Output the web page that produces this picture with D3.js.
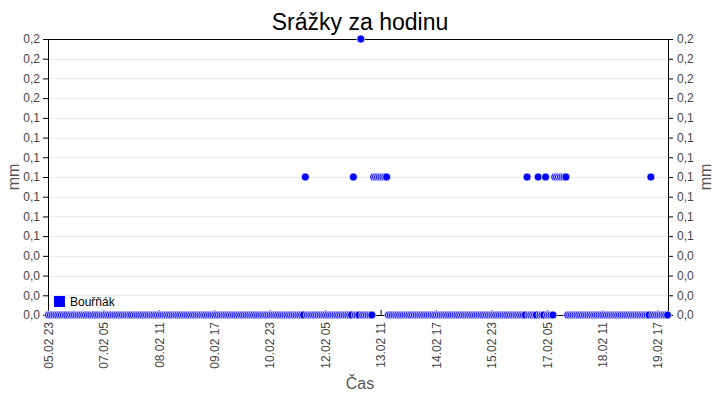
<!DOCTYPE html>
<html><head><meta charset="utf-8">
<script src="https://cdn.jsdelivr.net/npm/d3@7"></script>
<style>body{margin:0;background:#fff}svg{display:block}</style>
</head><body>
<script>
// ---- data ----
const title = "Srážky za hodinu";
const seriesName = "Bouřňák";
const startTime = "2023-02-05T23:00:00";   // first hourly sample
// hourly rainfall (mm), one row per 24 h starting 05.02 23:00
const rain = [
  0,0,0,0,0,0,0,0,0,0,0,0,0,0,0,0,0,0,0,0,0,0,0,0,
  0,0,0,0,0,0,0,0,0,0,0,0,0,0,0,0,0,0,0,0,0,0,0,0,
  0,0,0,0,0,0,0,0,0,0,0,0,0,0,0,0,0,0,0,0,0,0,0,0,
  0,0,0,0,0,0,0,0,0,0,0,0,0,0,0,0,0,0,0,0,0,0,0,0,
  0,0,0,0,0,0,0,0,0,0,0,0,0,0,0,0,0,0,0,0,0,0,0,0,
  0,0,0,0,0,0,0,0,0,0,0,0,0,0,0,0,0,0,0,0.1,0,0,0,0,
  0,0,0,0,0,0,0,0,0,0,0,0,0,0,0,0,0,0,0,0,0,0.1,0,0,
  0,0.2,0,0,0,0,0,0,0.1,0.1,0.1,0.1,0.1,0.1,0.1,0.1,0,0,0,0,0,0,0,0,
  0,0,0,0,0,0,0,0,0,0,0,0,0,0,0,0,0,0,0,0,0,0,0,0,
  0,0,0,0,0,0,0,0,0,0,0,0,0,0,0,0,0,0,0,0,0,0,0,0,
  0,0,0,0,0,0,0,0,0,0,0,0,0,0,0,0,0,0,0,0.1,0,0,0,0,
  0,0.1,0,0,0,0.1,0,0,0,0,0.1,0.1,0.1,0.1,0.1,0.1,0.1,0,0,0,0,0,0,0,
  0,0,0,0,0,0,0,0,0,0,0,0,0,0,0,0,0,0,0,0,0,0,0,0,
  0,0,0,0,0,0,0,0,0,0,0,0,0,0,0.1,0,0,0,0,0,0,0,0,0
];
const yMax = 0.2;
const yTickCount = 15;
const xTickStepHours = 30;
const xAxisTitle = "Čas";
const yAxisTitle = "mm";

// ---- chart ----
const W = 720, H = 400;
const m = {l: 48, r: 52, t: 39, b: 85};
const iw = W - m.l - m.r, ih = H - m.t - m.b;
const t0 = new Date(startTime);
const data = rain.map((v, i) => ({t: d3.timeHour.offset(t0, i), v}));
const tEnd = d3.timeHour.offset(t0, rain.length - 1);

const x = d3.scaleTime().domain([t0, tEnd]).range([0, iw - 1]);
const y = d3.scaleLinear().domain([0, yMax]).range([ih, 0]);
const yTicks = d3.range(yTickCount).map(i => yMax * i / (yTickCount - 1));
const xTicks = d3.range(0, rain.length, xTickStepHours).map(h => d3.timeHour.offset(t0, h));
const fmtY = v => d3.format(".1f")(v).replace(".", ",");
const fmtX = d3.timeFormat("%d.%m %H");

const svg = d3.select("body").append("svg").attr("width", W).attr("height", H)
  .style("font-family", "'Liberation Sans', Arial, sans-serif");
const g = svg.append("g").attr("transform", `translate(${m.l},${m.t})`);

// grid
g.append("g").selectAll("line").data(yTicks).join("line")
  .attr("x1", 1).attr("x2", iw).attr("y1", d => Math.round(y(d)) + 0.5).attr("y2", d => Math.round(y(d)) + 0.5)
  .attr("stroke", "#ebebeb");

// axes
const yl = g.append("g").call(d3.axisLeft(y).tickValues(yTicks).tickFormat(fmtY).tickSize(5).tickPadding(3));
const yr = g.append("g").attr("transform", `translate(${iw},0)`)
  .call(d3.axisRight(y).tickValues(yTicks).tickFormat(fmtY).tickSize(5).tickPadding(4));
const xa = g.append("g").attr("transform", `translate(0,${ih})`)
  .call(d3.axisBottom(x).tickValues(xTicks).tickFormat(fmtX).tickSize(-5).tickPadding(6));
[yl, yr, xa].forEach(a => {
  a.select(".domain").remove();
  a.selectAll("line").attr("stroke", "#000");
  a.selectAll("text").attr("fill", "#444").style("font-size", "12px");
});
xa.selectAll("text").attr("transform", "rotate(-90)").attr("text-anchor", "end")
  .attr("x", -7).attr("y", 0).attr("dy", "0.35em");

// frame
g.append("line").attr("x1", 0.5).attr("x2", 0.5).attr("y1", 0).attr("y2", ih).attr("stroke", "#000");
g.append("line").attr("x1", iw + 0.5).attr("x2", iw + 0.5).attr("y1", 0).attr("y2", ih).attr("stroke", "#000");
g.append("line").attr("x1", 0).attr("x2", iw).attr("y1", 0.5).attr("y2", 0.5).attr("stroke", "#000");
g.append("line").attr("x1", 0).attr("x2", iw).attr("y1", ih + 0.5).attr("y2", ih + 0.5).attr("stroke", "#000");

// markers
g.append("g").selectAll("circle").data(data.filter(d => d.v != null)).join("circle")
  .attr("cx", d => x(d.t) + 0.5).attr("cy", d => y(d.v))
  .attr("r", 4).attr("fill", "#0000ff").attr("stroke", "#fff").attr("stroke-width", 0.7);

// legend
g.append("rect").attr("x", 6).attr("y", ih - 19).attr("width", 11).attr("height", 11).attr("fill", "#0000ff");
g.append("text").attr("x", 22).attr("y", ih - 9).text(seriesName).style("font-size", "12px").attr("fill", "#000");

// titles
svg.append("text").attr("x", W / 2).attr("y", 30).attr("text-anchor", "middle")
  .style("font-size", "23px").attr("fill", "#000").text(title);
svg.append("text").attr("x", W / 2).attr("y", 389).attr("text-anchor", "middle")
  .style("font-size", "16px").attr("fill", "#555").text(xAxisTitle);
svg.append("text").attr("transform", `translate(19,${m.t + ih / 2}) rotate(-90)`).attr("text-anchor", "middle")
  .style("font-size", "16px").attr("fill", "#555").text(yAxisTitle);
svg.append("text").attr("transform", `translate(711,${m.t + ih / 2}) rotate(-90)`).attr("text-anchor", "middle")
  .style("font-size", "16px").attr("fill", "#555").text(yAxisTitle);
</script>
</body></html>
